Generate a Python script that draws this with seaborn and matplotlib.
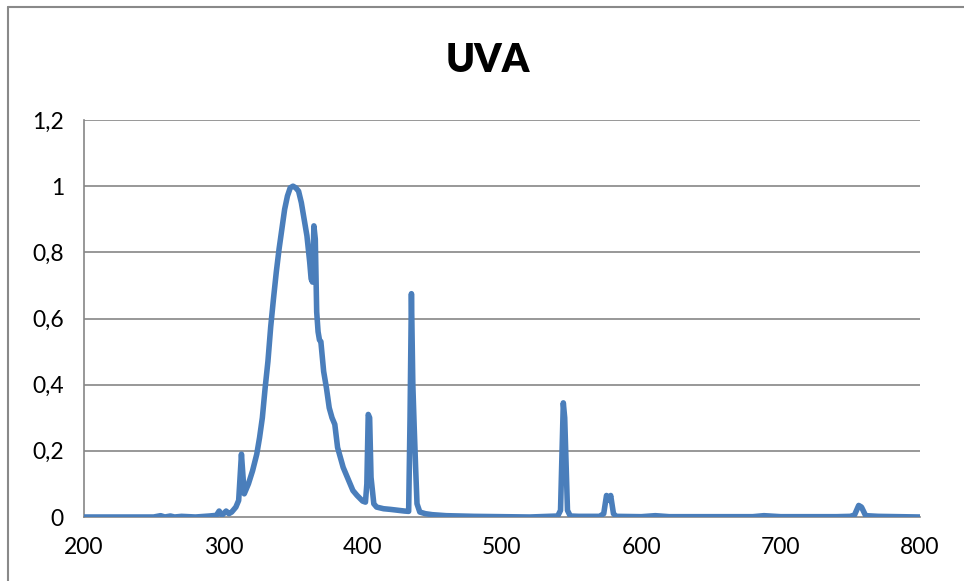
import matplotlib
matplotlib.use("Agg")
import matplotlib.pyplot as plt
from matplotlib.lines import Line2D
import seaborn as sns
import pandas as pd

wavelength = [200, 250, 255, 258, 262, 265, 270, 280, 290, 295, 297, 299, 302, 304, 306, 309, 311, 313, 315, 316,
              318, 321, 324, 326, 328, 330, 332, 334, 336, 338, 340, 342, 344, 346, 348, 350, 352, 354, 356, 358,
              360, 362, 363, 364, 365, 366, 367, 368, 369, 370, 372, 374, 376, 378, 380, 382, 384, 386, 388, 390,
              393, 396, 400, 402, 403, 404, 405, 406, 408, 410, 415, 420, 430, 433, 434, 435, 436, 437, 438, 439,
              441, 445, 450, 460, 480, 500, 520, 540, 542, 544, 545, 547, 549, 555, 570, 573, 575, 577, 578, 580,
              582, 600, 610, 620, 650, 680, 688, 700, 740, 750, 753, 756, 758, 761, 770, 800]
intensity = [0.0, 0.0, 0.004, 0.0, 0.003, 0.0, 0.002, 0.0, 0.003, 0.005, 0.018, 0.005, 0.018, 0.01, 0.015, 0.03, 0.05, 0.19, 0.07, 0.08,
             0.1, 0.14, 0.19, 0.24, 0.3, 0.39, 0.47, 0.575, 0.66, 0.74, 0.81, 0.87, 0.93, 0.97, 0.995, 1.0, 0.995, 0.985, 0.95, 0.9,
             0.85, 0.77, 0.72, 0.71, 0.88, 0.84, 0.62, 0.56, 0.535, 0.53, 0.44, 0.39, 0.33, 0.3, 0.28, 0.21, 0.18, 0.15, 0.13, 0.11,
             0.08, 0.065, 0.048, 0.045, 0.1, 0.31, 0.3, 0.12, 0.04, 0.03, 0.025, 0.023, 0.018, 0.017, 0.3, 0.675, 0.4, 0.27, 0.15, 0.04,
             0.015, 0.01, 0.007, 0.004, 0.002, 0.001, 0.0, 0.003, 0.02, 0.345, 0.3, 0.02, 0.003, 0.002, 0.002, 0.01, 0.065, 0.05, 0.065, 0.01,
             0.002, 0.001, 0.004, 0.001, 0.001, 0.001, 0.004, 0.001, 0.001, 0.002, 0.006, 0.035, 0.03, 0.004, 0.002, 0.0]

x_ticks = [200, 300, 400, 500, 600, 700, 800]
y_ticks = [0, 0.2, 0.4, 0.6, 0.8, 1.0, 1.2]
y_tick_labels = ["0", "0,2", "0,4", "0,6", "0,8", "1", "1,2"]
title = "UVA"

sns.set_style("white")
plt.rcParams["font.family"] = ["Lato", "DejaVu Sans"]

df = pd.DataFrame({"wl": wavelength, "val": intensity})

fig = plt.figure(figsize=(9.64, 5.81), dpi=100)
ax = fig.add_axes([84 / 964, 1 - 517 / 581, (920 - 84) / 964, (517 - 120) / 581])

gray = "#868686"
for yv in y_ticks[1:]:
    ax.axhline(yv, color=gray, lw=1.2, zorder=0)

sns.lineplot(data=df, x="wl", y="val", ax=ax, color="#4A7EBB", linewidth=4.0,
             estimator=None, sort=False, solid_joinstyle="round", solid_capstyle="round", zorder=3)

ax.set_xlim(200, 800)
ax.set_ylim(0, 1.2)
ax.set_xticks(x_ticks)
ax.set_xticklabels([str(v) for v in x_ticks])
ax.set_yticks(y_ticks)
ax.set_yticklabels(y_tick_labels)
ax.set_xlabel("")
ax.set_ylabel("")
for side in ["top", "right"]:
    ax.spines[side].set_visible(False)
for side in ["left", "bottom"]:
    ax.spines[side].set_color(gray)
    ax.spines[side].set_linewidth(1.2)
ax.tick_params(axis="both", direction="out", length=5.5, width=1.2, color=gray,
               labelsize=16.5, labelcolor="black", pad=9)

fig.text(488 / 964, 1 - 60 / 581, title, ha="center", va="center", fontsize=28,
         fontweight="heavy", color="black")

# chart area border (left and top edges)
fig.add_artist(Line2D([8 / 964, 8 / 964], [0, 1 - 7 / 581], transform=fig.transFigure, color="#898989", lw=1.5))
fig.add_artist(Line2D([8 / 964, 1], [1 - 7 / 581, 1 - 7 / 581], transform=fig.transFigure, color="#898989", lw=1.5))

fig.savefig("out.png", dpi=100)
